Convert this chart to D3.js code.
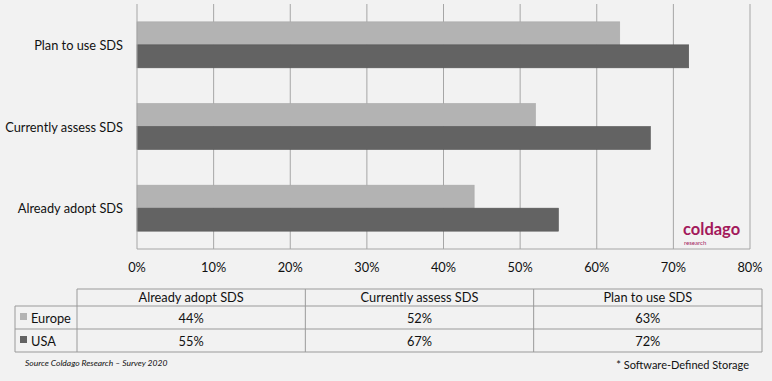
<!DOCTYPE html>
<html>
<head>
<meta charset="utf-8">
<script src="https://cdn.jsdelivr.net/npm/d3@7"></script>
<style>
  body { margin: 0; background: #f2f2f2; }
  svg { display: block; font-family: Lato, "Open Sans", sans-serif; }
</style>
</head>
<body>
<div id="root"></div>
<script>
const width = 772;
const height = 381;

// data
const categories = ['Already adopt SDS', 'Currently assess SDS', 'Plan to use SDS'];
const seriesNames = ['Europe', 'USA'];
const europe = [44, 52, 63];
const usa = [55, 67, 72];
const xTicks = [0, 10, 20, 30, 40, 50, 60, 70, 80];

const colors = {Europe: '#b3b3b3', USA: '#636363'};
const series = [europe, usa];
const fs = 12.8;

const svg = d3.select('#root')
  .append('svg')
  .attr('width', width).attr('height', height)
  .attr('fill', '#111');

svg.append('rect').attr('width', width).attr('height', height).attr('fill', '#f2f2f2');

const plot = {left: 137, right: 750, top: 4, bottom: 249};

const xScale = d3.scaleLinear()
  .domain([0, 80])
  .range([plot.left, plot.right]);

// top category first
const yScale = d3.scaleBand()
  .domain(categories.slice().reverse())
  .range([plot.top, plot.bottom])
  .paddingInner(0.437)
  .paddingOuter(0.2185);

const inner = d3.scaleBand()
  .domain(seriesNames)
  .range([0, yScale.bandwidth()]);

// gridlines
svg.append('g')
  .selectAll('line')
  .data(xTicks.slice(1))
  .enter().append('line')
  .attr('x1', d => xScale(d)).attr('x2', d => xScale(d))
  .attr('y1', plot.top).attr('y2', plot.bottom)
  .attr('stroke', '#a6a6a6').attr('stroke-width', 1);

// bars
const groups = svg.selectAll('.cat')
  .data(categories).enter()
  .append('g')
  .attr('transform', d => `translate(0, ${yScale(d)})`);

groups.selectAll('rect')
  .data((d, i) => seriesNames.map((s, j) => ({s: s, v: series[j][i]})))
  .enter().append('rect')
  .attr('x', xScale(0))
  .attr('y', d => inner(d.s))
  .attr('width', d => xScale(d.v) - xScale(0))
  .attr('height', inner.bandwidth())
  .attr('fill', d => colors[d.s])
  .attr('stroke', d => d.s === 'USA' ? '#555' : '#a8a8a8')
  .attr('stroke-width', 0.6);

// axes lines
svg.append('line')
  .attr('x1', plot.left).attr('x2', plot.left)
  .attr('y1', plot.top).attr('y2', plot.bottom)
  .attr('stroke', '#a6a6a6');
svg.append('line')
  .attr('x1', plot.left).attr('x2', plot.right)
  .attr('y1', plot.bottom).attr('y2', plot.bottom)
  .attr('stroke', '#a6a6a6');

// x tick labels
svg.append('g')
  .selectAll('text')
  .data(xTicks).enter()
  .append('text')
  .attr('x', d => xScale(d))
  .attr('y', 272)
  .attr('text-anchor', 'middle')
  .attr('font-size', fs)
  .text(d => d + '%');

// category labels
svg.append('g')
  .selectAll('text')
  .data(categories).enter()
  .append('text')
  .attr('x', 123)
  .attr('y', d => yScale(d) + yScale.bandwidth() / 2 + 5)
  .attr('text-anchor', 'end')
  .attr('font-size', fs)
  .text(d => d);

// logo
svg.append('text')
  .attr('x', 683).attr('y', 235)
  .attr('font-size', 16.5).attr('font-weight', 'bold')
  .attr('fill', '#a3195b')
  .text('coldago');
svg.append('text')
  .attr('x', 684).attr('y', 245)
  .attr('font-size', 6)
  .attr('fill', '#a3195b')
  .text('research');

// data table
const table = {left: 15, labelRight: 77, right: 762, top: 289, rows: [306, 329, 352]};
const colScale = d3.scaleBand()
  .domain(categories)
  .range([table.labelRight, table.right]);
const lineColor = '#9a9a9a';

const tg = svg.append('g');
// horizontal lines
tg.append('line')
  .attr('x1', table.labelRight).attr('x2', table.right)
  .attr('y1', table.top).attr('y2', table.top)
  .attr('stroke', lineColor);
tg.selectAll('.hline')
  .data(table.rows).enter()
  .append('line')
  .attr('x1', table.left).attr('x2', table.right)
  .attr('y1', d => d).attr('y2', d => d)
  .attr('stroke', lineColor);
// vertical lines
tg.append('line')
  .attr('x1', table.left).attr('x2', table.left)
  .attr('y1', table.rows[0]).attr('y2', table.rows[2])
  .attr('stroke', lineColor);
tg.selectAll('.vline')
  .data(categories.map(c => colScale(c)).concat([table.right])).enter()
  .append('line')
  .attr('x1', d => d).attr('x2', d => d)
  .attr('y1', table.top).attr('y2', table.rows[2])
  .attr('stroke', lineColor);

// header
tg.selectAll('.hdr')
  .data(categories).enter()
  .append('text')
  .attr('x', d => colScale(d) + colScale.bandwidth() / 2)
  .attr('y', table.top + 13)
  .attr('text-anchor', 'middle')
  .attr('font-size', fs)
  .text(d => d);

// rows
seriesNames.forEach((s, j) => {
  const top = table.rows[j];
  const mid = (top + table.rows[j + 1]) / 2;
  tg.append('rect')
    .attr('x', 20).attr('y', mid - 4.5)
    .attr('width', 7).attr('height', 7)
    .attr('fill', colors[s]);
  tg.append('text')
    .attr('x', 31).attr('y', mid + 5)
    .attr('font-size', fs)
    .text(s);
  tg.selectAll('.v' + j)
    .data(categories).enter()
    .append('text')
    .attr('x', d => colScale(d) + colScale.bandwidth() / 2)
    .attr('y', mid + 5)
    .attr('text-anchor', 'middle')
    .attr('font-size', fs)
    .text((d, i) => series[j][i] + '%');
});

// notes
svg.append('text')
  .attr('x', 25).attr('y', 366)
  .attr('font-size', 8.5).attr('font-style', 'italic')
  .text('Source Coldago Research \u2013 Survey 2020');
svg.append('text')
  .attr('x', 749).attr('y', 369)
  .attr('text-anchor', 'end')
  .attr('font-size', 11)
  .text('* Software-Defined Storage');
</script>
</body>
</html>
